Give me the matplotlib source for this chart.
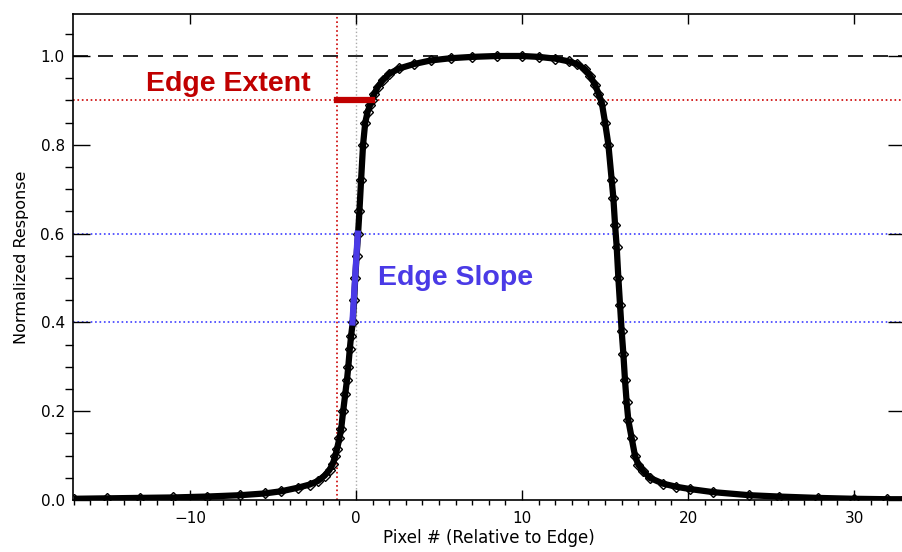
import numpy as np
import matplotlib.pyplot as plt
from matplotlib.ticker import MultipleLocator

# edge response
pixel = [-17, -15, -13, -11, -9, -7, -5.5, -4.5, -3.5, -2.8, -2.3, -1.9, -1.6, -1.4,
         -1.25, -1.15, -1.0, -0.9, -0.78, -0.65, -0.55, -0.47, -0.38, -0.3, -0.2,
         -0.12, -0.05, 0.03, 0.12, 0.2, 0.3, 0.42, 0.55, 0.7, 0.85, 0.95, 1.1, 1.3,
         1.6, 2.0, 2.6, 3.5, 4.5, 5.7, 7, 8.5, 10, 11, 12, 12.8, 13.3, 13.8, 14.1,
         14.4, 14.6, 14.8, 15.0, 15.2, 15.4, 15.5, 15.6, 15.7, 15.8, 15.9, 16.0,
         16.1, 16.2, 16.3, 16.4, 16.6, 16.8, 17.0, 17.3, 17.7, 18.5, 19.3, 20.1,
         21.5, 23.7, 25.5, 27.8, 30, 32, 33]
response = [0.003, 0.004, 0.005, 0.006, 0.008, 0.011, 0.015, 0.02, 0.028, 0.035,
            0.043, 0.055, 0.068, 0.082, 0.1, 0.115, 0.14, 0.16, 0.2, 0.24, 0.27,
            0.3, 0.34, 0.37, 0.4, 0.45, 0.5, 0.55, 0.6, 0.65, 0.72, 0.8, 0.85,
            0.875, 0.89, 0.9, 0.915, 0.93, 0.945, 0.96, 0.972, 0.982, 0.99, 0.995,
            0.998, 1.0, 1.0, 0.998, 0.994, 0.988, 0.982, 0.97, 0.955, 0.935, 0.915,
            0.895, 0.85, 0.8, 0.72, 0.68, 0.62, 0.57, 0.5, 0.44, 0.38, 0.33, 0.27,
            0.22, 0.18, 0.14, 0.10, 0.08, 0.065, 0.05, 0.037, 0.03, 0.025, 0.018,
            0.011, 0.008, 0.005, 0.003, 0.002, 0.002]

extent_x = [-1.15, 0.95]
extent_y = 0.9
slope_x = [-0.22, 0.1]
slope_y = [0.4, 0.6]

red = '#c00000'
blue = '#4a3ae6'

fig = plt.figure(figsize=(9.02, 5.52), dpi=100)
ax = fig.add_axes([0.081, 0.094, 0.922, 0.881])

ax.axhline(1.0, color='black', lw=1.2, ls=(0, (9, 6)), zorder=1)
ax.axhline(extent_y, color='#cc0000', lw=1.2, ls=':', zorder=1)
ax.axhline(slope_y[0], color='#3d3dff', lw=1.2, ls=':', zorder=1)
ax.axhline(slope_y[1], color='#3d3dff', lw=1.2, ls=':', zorder=1)
ax.axvline(extent_x[0], color='#cc0000', lw=1.2, ls=':', zorder=1)
ax.axvline(0, color='#aaaaaa', lw=1.0, ls=':', zorder=1)

ax.plot(pixel, response, color='black', lw=4.5, zorder=3, solid_capstyle='butt')
ax.plot(pixel, response, ls='none', marker='D', ms=5, mfc='none', mec='black',
        mew=1, zorder=3)

ax.plot(extent_x, [extent_y, extent_y], color=red, lw=4.5, zorder=4)
ax.plot(slope_x, slope_y, color=blue, lw=4.5, zorder=4)

ax.text(-12.65, 0.937, 'Edge Extent', color=red, fontsize=20.5, fontweight='bold',
        family='Liberation Sans', va='center', ha='left')
ax.text(1.33, 0.50, 'Edge Slope', color=blue, fontsize=20.5, fontweight='bold',
        family='Liberation Sans', va='center', ha='left')

ax.set_xlim(-17.05, 33.05)
ax.set_ylim(0, 1.095)
ax.xaxis.set_major_locator(MultipleLocator(10))
ax.xaxis.set_minor_locator(MultipleLocator(1))
ax.yaxis.set_minor_locator(MultipleLocator(0.05))
ax.set_yticks(np.arange(0, 1.01, 0.2))
ax.set_yticklabels(['0.0', '0.2', '0.4', '0.6', '0.8', '1.0'])

ax.tick_params(direction='in', top=True, right=True, labelsize=11, width=1)
ax.tick_params(axis='x', which='major', length=7, pad=8)
ax.tick_params(axis='x', which='minor', length=3.5, width=1)
ax.tick_params(axis='y', which='major', length=12, pad=6)
ax.tick_params(axis='y', which='minor', length=6, width=1)
for s in ax.spines.values():
    s.set_linewidth(1.2)

ax.set_xlabel('Pixel # (Relative to Edge)', fontsize=12, labelpad=2)
ax.set_ylabel('Normalized Response', fontsize=11.5, labelpad=8)

fig.savefig('out.png', dpi=100)
